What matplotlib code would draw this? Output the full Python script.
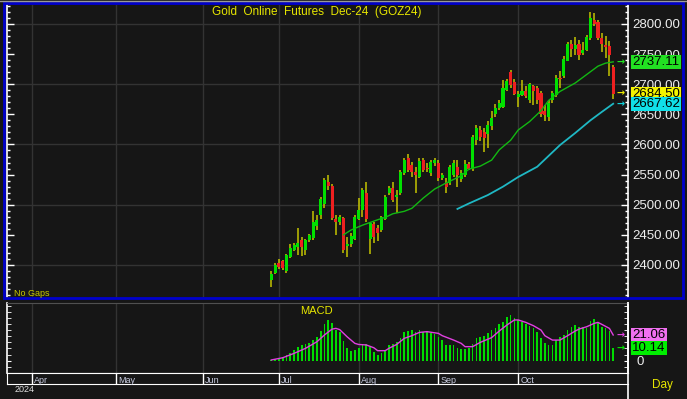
import numpy as np
import matplotlib
matplotlib.use('Agg')
import matplotlib.pyplot as plt
from matplotlib.patches import Rectangle
from matplotlib.lines import Line2D
from matplotlib.ticker import MultipleLocator, FixedLocator

plt.rcParams['font.family'] = ['Liberation Sans', 'DejaVu Sans']

# swiece dzienne (od konca czerwca do poczatku listopada 2024)
opens = [2375, 2386, 2404, 2406, 2390, 2414, 2425, 2430, 2441, 2425,
         2441, 2444, 2465, 2483, 2502, 2537, 2531, 2477, 2471, 2478,
         2431, 2435, 2443, 2477, 2491, 2519, 2443, 2468, 2462, 2458,
         2477, 2519, 2527, 2513, 2519, 2552, 2577, 2566, 2555, 2546,
         2574, 2561, 2552, 2569, 2569, 2545, 2536, 2536, 2549, 2562,
         2542, 2549, 2568, 2560, 2607, 2624, 2621, 2617, 2630, 2651,
         2661, 2663, 2691, 2721, 2704, 2678, 2682, 2689, 2674, 2697,
         2694, 2685, 2655, 2645, 2673, 2682, 2711, 2713, 2739, 2767,
         2759, 2767, 2752, 2757, 2777, 2807, 2803, 2777, 2765, 2763,
         2728]
highs = [2390, 2403, 2410, 2408, 2419, 2434, 2437, 2461, 2447, 2443,
         2452, 2489, 2483, 2512, 2545, 2550, 2535, 2483, 2483, 2480,
         2447, 2453, 2483, 2511, 2527, 2537, 2472, 2472, 2466, 2481,
         2516, 2531, 2537, 2524, 2558, 2577, 2584, 2571, 2563, 2577,
         2577, 2569, 2574, 2578, 2574, 2553, 2544, 2566, 2574, 2574,
         2558, 2574, 2571, 2616, 2632, 2631, 2627, 2639, 2656, 2667,
         2674, 2707, 2709, 2723, 2709, 2688, 2707, 2697, 2702, 2699,
         2697, 2689, 2665, 2674, 2689, 2715, 2722, 2747, 2770, 2773,
         2778, 2773, 2770, 2782, 2820, 2819, 2807, 2785, 2780, 2772,
         2732]
lows = [2364, 2385, 2394, 2392, 2386, 2411, 2423, 2416, 2415, 2416,
        2438, 2441, 2458, 2476, 2494, 2524, 2475, 2450, 2466, 2420,
        2414, 2430, 2441, 2475, 2480, 2472, 2419, 2436, 2439, 2454,
        2475, 2516, 2505, 2486, 2516, 2549, 2555, 2546, 2520, 2544,
        2555, 2554, 2548, 2564, 2539, 2541, 2519, 2533, 2546, 2530,
        2538, 2546, 2558, 2556, 2599, 2606, 2587, 2594, 2624, 2646,
        2657, 2661, 2689, 2694, 2682, 2662, 2680, 2677, 2669, 2665,
        2667, 2646, 2639, 2639, 2669, 2679, 2694, 2710, 2738, 2745,
        2748, 2740, 2748, 2755, 2773, 2797, 2773, 2753, 2744, 2713,
        2675]
closes = [2385, 2400, 2397, 2395, 2417, 2428, 2433, 2437, 2430, 2441,
          2450, 2471, 2475, 2509, 2541, 2531, 2478, 2471, 2480, 2425,
          2435, 2448, 2479, 2491, 2524, 2477, 2469, 2447, 2453, 2479,
          2513, 2528, 2508, 2516, 2555, 2574, 2558, 2555, 2549, 2573,
          2558, 2559, 2571, 2574, 2544, 2549, 2530, 2562, 2569, 2549,
          2552, 2568, 2560, 2613, 2627, 2613, 2610, 2632, 2644, 2660,
          2669, 2694, 2705, 2699, 2684, 2684, 2689, 2680, 2700, 2688,
          2674, 2651, 2649, 2669, 2685, 2711, 2709, 2742, 2766, 2759,
          2765, 2748, 2757, 2778, 2810, 2800, 2776, 2766, 2761, 2749,
          2684.5]

# srednie kroczace (numer swiecy, wartosc)
ma20_bar = [19, 21, 24, 28, 30, 32, 35, 37, 40, 43, 46, 50, 52, 55, 58,
            60, 63, 65, 68, 71, 73, 76, 80, 83, 86, 88, 90]
ma20 = [2450, 2458, 2466, 2475, 2479, 2485, 2489, 2494, 2511, 2526, 2536,
        2548, 2559, 2564, 2574, 2591, 2607, 2624, 2638, 2656, 2673, 2688,
        2702, 2716, 2730, 2735, 2737.11]
ma50_bar = [49, 52, 57, 61, 65, 70, 76, 80, 84, 87, 90]
ma50 = [2493, 2502, 2516, 2530, 2546, 2563, 2599, 2619, 2640, 2654, 2667.62]

# MACD (slupki) i linia sygnalu
macd = [0.3, 1.0, 1.9, 2.7, 4.6, 6.0, 8.7, 11.5, 12.6, 13.3,
        14.8, 16.9, 19.1, 24.3, 30.0, 33.4, 30.6, 25.1, 23.8, 16.1,
        10.6, 8.2, 8.7, 10.6, 13.3, 13.3, 11.5, 6.9, 4.6, 6.0,
        8.7, 12.9, 13.3, 15.0, 18.9, 23.8, 24.6, 25.1, 23.8, 25.1,
        23.8, 23.2, 22.4, 21.6, 19.6, 16.9, 12.9, 12.9, 12.9, 10.6,
        9.3, 9.6, 10.6, 13.3, 18.3, 19.6, 20.5, 22.4, 25.1, 27.1,
        29.8, 31.9, 36.1, 37.4, 35.2, 33.4, 31.9, 29.8, 28.7, 27.1,
        23.8, 18.3, 14.2, 12.9, 12.9, 16.9, 19.6, 21.1, 25.1, 27.8,
        29.2, 27.8, 27.8, 26.5, 32.5, 34.1, 30.6, 27.8, 26.5, 24.3,
        10.14]
signal_bar = [0, 3, 6, 9, 12, 14, 16, 17, 18, 20, 22, 23, 25, 27, 28, 30,
              31, 33, 35, 37, 39, 41, 44, 45, 48, 50, 51, 53, 55, 58, 60,
              62, 64, 65, 67, 69, 71, 72, 74, 76, 78, 80, 81, 83, 85, 86,
              87, 89, 90]
signal = [0.6, 2.4, 6.0, 10.1, 15.5, 21.1, 25.9, 26.5, 25.5, 19.5, 14.2,
          13.3, 12.9, 10.6, 8.2, 8.2, 10.2, 13.3, 18.3, 20.5, 23.2, 23.8,
          22.4, 20.5, 16.9, 14.2, 11.5, 11.5, 15.0, 18.9, 24.3, 29.2, 33.4,
          33.4, 31.4, 28.7, 25.1, 20.5, 16.9, 16.9, 20.5, 24.3, 25.9, 27.8,
          30.6, 31.4, 29.8, 26.5, 21.06]

months = ['Apr', 'May', 'Jun', 'Jul', 'Aug', 'Sep', 'Oct']
month_bar = [-63, -41, -18, 2, 23, 44, 65]

last_price = 2684.50
last_ma20 = 2737.11
last_ma50 = 2667.62
last_macd = 10.14
last_signal = 21.06

BG = '#161616'
GRID = '#333333'
UP = '#00e000'
DOWN = '#ee2020'
WICK = '#c4c400'
W, H = 687, 399


def fx(px):
    return px / W


def fy(py):
    return 1 - py / H


fig = plt.figure(figsize=(W / 100, H / 100), dpi=100, facecolor=BG)

xmin, xmax = -69.7, 93.9
left = fx(6.5)
width = (628 - 6.5) / W

# --- wykres cen ---
ax = fig.add_axes([left, fy(297), width, (297 - 5) / H], facecolor=BG)
ax.set_xlim(xmin, xmax)
ax.set_ylim(2346.8, 2831.5)

for p in range(2400, 2801, 100):
    ax.axhline(p, color=GRID, lw=1, zorder=0)
for m in month_bar:
    ax.axvline(m, color=GRID, lw=1, zorder=0)

o = np.array(opens)
h = np.array(highs)
lo = np.array(lows)
c = np.array(closes)
xs = np.arange(len(c))
col = np.where(c >= o, UP, DOWN)
ax.vlines(xs, lo, h, color=WICK, lw=1.1, zorder=2)
ax.bar(xs, np.maximum(np.abs(c - o), 1.8), bottom=np.minimum(o, c),
       width=0.8, color=col, lw=0, zorder=3)

ax.plot(ma20_bar, ma20, color='#12b812', lw=1, zorder=4)
ax.plot(ma50_bar, ma50, color='#1fb8c4', lw=1.3, zorder=4)

ax.yaxis.set_major_locator(FixedLocator(np.arange(2400, 2801, 50)))
ax.yaxis.set_minor_locator(MultipleLocator(10))
ax.set_yticklabels(['%.2f' % v for v in np.arange(2400, 2801, 50)])
ax.tick_params(axis='y', which='both', direction='in', left=True, right=True,
               labelleft=False, labelright=True, colors='white',
               labelcolor='#eeeeee', labelsize=9.5, pad=3)
ax.tick_params(axis='y', which='major', length=5, width=1)
ax.tick_params(axis='y', which='minor', length=2.5, width=1)
ax.set_xticks([])
for s in ['top', 'bottom']:
    ax.spines[s].set_visible(False)
for s in ['left', 'right']:
    ax.spines[s].set_color('white')
    ax.spines[s].set_linewidth(1.2)

lab_tr = ax.get_yaxis_transform()
for val, fc in [(last_ma20, '#22e022'), (last_price, '#f4f400'),
                (last_ma50, '#10e0e8')]:
    ax.text(1.007, val, '%.2f' % val, transform=lab_tr, fontsize=9.5,
            color='black', ha='left', va='center', zorder=6,
            bbox=dict(boxstyle='square,pad=0.08', fc=fc, ec='none'))
for val, fc in [(last_ma20, '#22e022'), (last_price, '#e8e800'),
                (last_ma50, '#10d0d8')]:
    ax.text(0.988, val, '\u2192', transform=lab_tr, fontsize=7,
            color=fc, ha='center', va='center', zorder=6,
            family='DejaVu Sans', fontweight='bold')

# --- MACD ---
ax2 = fig.add_axes([left, fy(373), width, (373 - 303) / H], facecolor=BG)
ax2.set_xlim(xmin, xmax)
ax2.set_ylim(-10.1, 47.3)
for m in month_bar:
    ax2.axvline(m, color=GRID, lw=1, zorder=0)
ax2.bar(xs, macd, width=0.45, color='#00dc00', lw=0, zorder=2)
ax2.plot(signal_bar, signal, color='#e040e0', lw=1, zorder=3)
ax2.yaxis.set_major_locator(FixedLocator([0]))
ax2.yaxis.set_minor_locator(MultipleLocator(5))
ax2.set_yticklabels(['0'])
ax2.tick_params(axis='y', which='both', direction='in', left=True, right=True,
                labelleft=False, labelright=True, colors='white',
                labelcolor='#eeeeee', labelsize=9.5, pad=6, length=3)
ax2.set_xticks([])
ax2.spines['top'].set_color('#505050')
ax2.spines['bottom'].set_color('white')
for s in ['left', 'right']:
    ax2.spines[s].set_color('white')
    ax2.spines[s].set_linewidth(1.2)

lab_tr2 = ax2.get_yaxis_transform()
for val, fc in [(last_signal, '#f070f0'), (last_macd, '#00ee00')]:
    ax2.text(1.007, val, '%.2f' % val, transform=lab_tr2, fontsize=9.5,
             color='black', ha='left', va='center', zorder=6,
             bbox=dict(boxstyle='square,pad=0.08', fc=fc, ec='none'))
for val, fc in [(last_signal, '#e040e0'), (last_macd, '#00dd00')]:
    ax2.text(0.988, val, '\u2192', transform=lab_tr2, fontsize=7,
             color=fc, ha='center', va='center', zorder=6,
             family='DejaVu Sans', fontweight='bold')

# --- os czasu ---
ax3 = fig.add_axes([left, fy(384), width, (384 - 373) / H], facecolor=BG)
ax3.set_xlim(xmin, xmax)
ax3.set_ylim(0, 1)
ax3.set_xticks([])
ax3.set_yticks([])
for s in ['top', 'bottom', 'left']:
    ax3.spines[s].set_color('white')
ax3.spines['right'].set_visible(False)
for m, name in zip(month_bar, months):
    ax3.axvline(m, color='white', lw=1)
    ax3.text(m + 0.6, 0.3, name, fontsize=6.5, color='#c8cce0',
             ha='left', va='center')

# ramki i napisy
fig.add_artist(Rectangle((fx(4), fy(298)), (683 - 4) / W, (298 - 2.5) / H,
                         transform=fig.transFigure, fill=False,
                         ec='#0000cc', lw=2))
fig.add_artist(Line2D([0, 1], [fy(0.5), fy(0.5)], color='#9a9a9a', lw=1))
fig.add_artist(Line2D([fx(628), fx(628)], [fy(303), fy(399)],
                      color='white', lw=1.2))

fig.text(fx(317), fy(12), 'Gold  Online  Futures  Dec-24  (GOZ24)',
         fontsize=8.5, color='#e6e600', ha='center', va='center')
fig.text(fx(14), fy(293), 'No Gaps', fontsize=6.5, color='#c8c800',
         ha='left', va='center')
fig.text(fx(316), fy(311), 'MACD', fontsize=8, color='#e6e600',
         ha='center', va='center')
fig.text(fx(15), fy(390), '2024', fontsize=6.5, color='#e0e0e0',
         ha='left', va='center')
fig.text(fx(662), fy(385), 'Day', fontsize=8.5, color='#e6e600',
         ha='center', va='center')

fig.savefig('out.png', dpi=100, facecolor=BG)
